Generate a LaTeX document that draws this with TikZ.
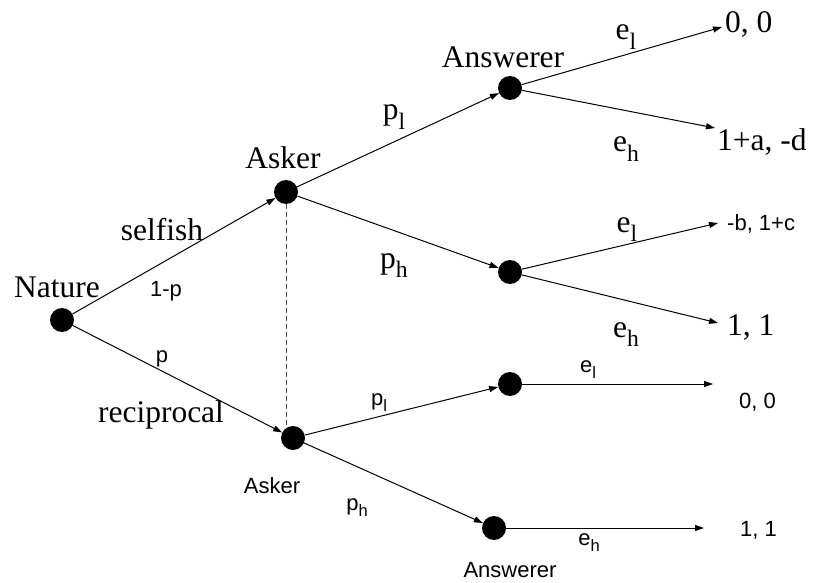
\documentclass[tikz,border=0pt]{standalone}
\usepackage{fontspec}
\setmainfont{Liberation Serif}
\setsansfont{Liberation Sans}
\usetikzlibrary{arrows.meta,positioning}
\newcommand{\lowsub}[1]{\raisebox{-0.3em}{\scalebox{0.75}{#1}}}

\begin{document}
\begin{tikzpicture}[x=1pt,y=-1pt,>={Triangle[length=9pt,width=6pt]},
  dot/.style={circle,fill=black,minimum size=24pt,inner sep=0pt},
  lab/.style={font=\fontsize{31.5}{36}\selectfont,anchor=base,inner sep=0pt},
  slab/.style={font=\sffamily\fontsize{22}{26}\selectfont,anchor=base,inner sep=0pt},
  br/.style={->,line width=1pt}]
  \useasboundingbox (0,0) rectangle (819,583);
  % decision nodes
  \node[dot] (nat) at (62,320) {};
  \node[dot] (ask1) at (286,192) {};
  \node[dot] (ask2) at (293,438) {};
  \node[dot] (ans1) at (510,88) {};
  \node[dot] (ans2) at (510,272) {};
  \node[dot] (ans3) at (510,384) {};
  \node[dot] (ans4) at (494,528) {};
  % ends of the payoff arrows
  \coordinate (end1) at (722,27);
  \coordinate (end2) at (715,128);
  \coordinate (end3) at (718,223);
  \coordinate (end4) at (718,323);
  \coordinate (end5) at (713,384);
  \coordinate (end6) at (704,528);
  % branches
  \draw[br] (nat) -- (ask1);
  \draw[br] (nat) -- (ask2);
  \draw[br] (ask1) -- (ans1);
  \draw[br] (ask1) -- (ans2);
  \draw[br] (ask2) -- (ans3);
  \draw[br] (ask2) -- (ans4);
  \draw[br] (ans1) -- (end1);
  \draw[br] (ans1) -- (end2);
  \draw[br] (ans2) -- (end3);
  \draw[br] (ans2) -- (end4);
  \draw[br] (ans3) -- (end5);
  \draw[br] (ans4) -- (end6);
  % information set
  \draw[gray!60!black,line width=1pt,dash pattern=on 5pt off 3pt]
    (ask1.south) -- (ask1 |- ask2.north);
  % players and moves
  \node[lab] at (57,297) {Nature};
  \node[lab] at (283,168) {Asker};
  \node[lab] at (503,68) {Answerer};
  \node[lab] at (162,240) {selfish};
  \node[lab] at (161,422) {reciprocal};
  \node[lab] at (394,120) {p\lowsub{l}};
  \node[lab] at (394,268) {p\lowsub{h}};
  \node[lab] at (626,40) {e\lowsub{l}};
  \node[lab] at (626,152) {e\lowsub{h}};
  \node[lab] at (627,232) {e\lowsub{l}};
  \node[lab] at (626,337) {e\lowsub{h}};
  \node[slab] at (166,296) {1-p};
  \node[slab] at (162,362) {p};
  \node[slab] at (379,405) {p\lowsub{l}};
  \node[slab] at (357,510) {p\lowsub{h}};
  \node[slab] at (588,372) {e\lowsub{l}};
  \node[slab] at (589,545) {e\lowsub{h}};
  \node[slab] at (272,493) {Asker};
  \node[slab] at (510,577) {Answerer};
  % payoffs
  \node[lab,anchor=base west] at (725,33) {0, 0};
  \node[lab,anchor=base west] at (717,150) {1+a, -d};
  \node[slab,anchor=base west] at (727,230) {-b, 1+c};
  \node[lab,anchor=base west] at (727,335) {1, 1};
  \node[slab,anchor=base west] at (739,408) {0, 0};
  \node[slab,anchor=base west] at (740,536) {1, 1};
\end{tikzpicture}
\end{document}
